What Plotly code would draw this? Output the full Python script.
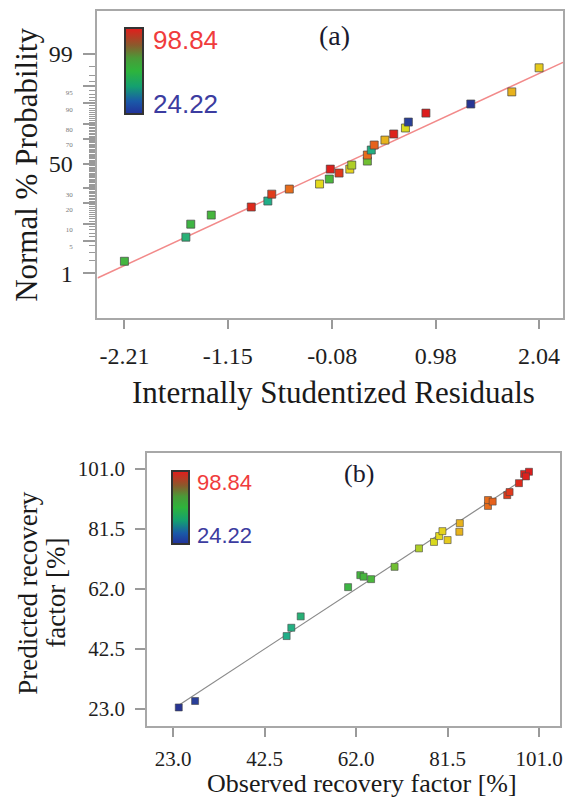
import plotly.graph_objects as go
from statistics import NormalDist

# ---------------- data: panel (a) normal probability plot ----------------
residuals = [-2.21, -1.58, -1.53, -1.32, -0.91, -0.74, -0.70, -0.52, -0.21, -0.11,
             -0.10, -0.01, 0.10, 0.12, 0.28, 0.28, 0.32, 0.35, 0.46, 0.55,
             0.67, 0.70, 0.88, 1.34, 1.76, 2.04]
probability_pct = [1.9, 5.9, 9.9, 13.7, 17.8, 21.3, 25.8, 29.4, 33.2, 37.1,
                   45.3, 42.0, 45.3, 48.7, 52.1, 57.2, 61.3, 65.3, 69.1, 73.5,
                   77.5, 81.1, 85.8, 89.7, 93.6, 97.9]
recovery_a = [62.9, 50.2, 60.3, 63.6, 96.7, 47.2, 94.2, 90.1, 79.7, 65.2,
              98.2, 94.7, 80.4, 75.4, 70.2, 90.1, 48.2, 91.1, 84.0, 97.8,
              78.6, 27.7, 98.84, 24.22, 84.1, 81.5]
fit_slope = 0.960
fit_intercept = -0.045
resid_ticks = [-2.21, -1.15, -0.08, 0.98, 2.04]
prob_major = [1, 50, 99]
prob_small = [5, 10, 20, 30, 70, 80, 90, 95]

# ---------------- data: panel (b) predicted vs observed ----------------
observed = [24.22, 27.7, 47.2, 48.2, 50.2, 60.3, 62.9, 63.6, 65.2, 70.2,
            75.4, 78.6, 79.7, 80.4, 81.5, 84.0, 84.1, 90.1, 90.1, 91.1,
            94.2, 94.7, 96.7, 97.8, 98.84, 98.2]
predicted = [23.5, 25.6, 46.7, 49.4, 53.1, 62.6, 66.5, 66.0, 65.2, 69.2,
             75.2, 77.3, 79.2, 80.8, 77.9, 80.6, 83.4, 89.0, 90.9, 90.4,
             92.5, 93.5, 96.4, 99.4, 100.1, 98.6]
rf_ticks = [23.0, 42.5, 62.0, 81.5, 101.0]
color_min = 24.22
color_max = 98.84

nd = NormalDist()
def probit(p):
    return nd.inv_cdf(p / 100.0)

SERIF = "Liberation Serif"
SANS = "Liberation Sans"
W, H = 568, 801

point_scale = [
    [0.0, "#283593"], [0.1, "#2a4aa0"], [0.3, "#20ae8c"], [0.45, "#38b448"],
    [0.58, "#50b838"], [0.68, "#a8cc28"], [0.74, "#e4dc1c"], [0.8, "#e8b41c"],
    [0.88, "#e8701c"], [0.94, "#e03a1c"], [1.0, "#dc1c1c"],
]
bar_scale = [
    [0.0, "#22309a"], [0.15, "#1a5aa8"], [0.32, "#14a070"], [0.5, "#2eb43c"],
    [0.65, "#4a9a38"], [0.8, "#8a5a2c"], [1.0, "#e41c1c"],
]

fig = go.Figure()

# ---- panel (a) ----
xa_range = [-2.486, 2.285]
fig.add_trace(go.Scatter(
    x=xa_range, y=[fit_slope * v + fit_intercept for v in xa_range],
    mode="lines", line=dict(color="#f28a8a", width=1.5),
    xaxis="x", yaxis="y", showlegend=False, hoverinfo="skip"))
fig.add_trace(go.Scatter(
    x=residuals, y=[probit(p) for p in probability_pct], mode="markers",
    marker=dict(symbol="square", size=8, color=recovery_a, cmin=color_min, cmax=color_max,
                colorscale=point_scale, line=dict(color="rgba(70,70,70,0.7)", width=1)),
    xaxis="x", yaxis="y", showlegend=False))
fig.add_trace(go.Scatter(
    x=[None], y=[None], mode="markers", xaxis="x", yaxis="y", showlegend=False, hoverinfo="skip",
    marker=dict(color=[color_min, color_max], cmin=color_min, cmax=color_max, colorscale=bar_scale,
                showscale=True,
                colorbar=dict(x=126 / W, xanchor="left", y=1 - 28 / H, yanchor="top",
                              lenmode="pixels", len=86, thicknessmode="pixels", thickness=18,
                              outlinewidth=2, outlinecolor="#333333", showticklabels=False,
                              ticks="", xpad=0, ypad=0, borderwidth=0))))

# ---- panel (b) ----
fig.add_trace(go.Scatter(
    x=[color_min, color_max], y=[color_min, color_max], mode="lines",
    line=dict(color="#8a8a8a", width=1.2),
    xaxis="x2", yaxis="y2", showlegend=False, hoverinfo="skip"))
fig.add_trace(go.Scatter(
    x=observed, y=predicted, mode="markers",
    marker=dict(symbol="square", size=7, color=observed, cmin=color_min, cmax=color_max,
                colorscale=point_scale, line=dict(color="rgba(70,70,70,0.6)", width=1)),
    xaxis="x2", yaxis="y2", showlegend=False))
fig.add_trace(go.Scatter(
    x=[None], y=[None], mode="markers", xaxis="x2", yaxis="y2", showlegend=False, hoverinfo="skip",
    marker=dict(color=[color_min, color_max], cmin=color_min, cmax=color_max, colorscale=bar_scale,
                showscale=True,
                colorbar=dict(x=173 / W, xanchor="left", y=1 - 471 / H, yanchor="top",
                              lenmode="pixels", len=73, thicknessmode="pixels", thickness=17,
                              outlinewidth=2, outlinecolor="#333333", showticklabels=False,
                              ticks="", xpad=0, ypad=0, borderwidth=0))))

# y tick labels for the probability axis
prob_tickvals = [probit(p) for p in prob_major + prob_small]
prob_ticktext = [str(p) for p in prob_major] + \
    ["<span style='font-size:7px;fill:#777'>%d</span>" % p for p in prob_small]
minor_pcts = [p for p in range(2, 99) if p not in prob_major + prob_small]

axis_common = dict(showgrid=False, zeroline=False, showline=True, mirror=True,
                   linecolor="#a8a8a8", linewidth=2, ticks="outside", tickcolor="#9a9a9a",
                   tickwidth=2)

fig.update_layout(
    width=W, height=H, margin=dict(l=0, r=0, t=0, b=0),
    paper_bgcolor="white", plot_bgcolor="white",
    xaxis=dict(domain=[98 / W, 566 / W], range=xa_range, anchor="y",
               tickmode="array", tickvals=resid_ticks, ticktext=["%.2f" % v for v in resid_ticks],
               ticklen=9, ticklabelstandoff=6,
               tickfont=dict(family=SERIF, size=24, color="#1e1e1e"), **axis_common),
    yaxis=dict(domain=[1 - 318 / H, 1 - 11 / H], range=[-3.28, 3.24], anchor="x",
               tickmode="array", tickvals=prob_tickvals, ticktext=prob_ticktext,
               ticklen=12, ticklabelstandoff=6,
               tickfont=dict(family=SERIF, size=24, color="#1e1e1e"),
               minor=dict(tickvals=[probit(p) for p in minor_pcts], ticklen=6,
                          tickcolor="#9a9a9a", tickwidth=1, ticks="outside"),
               **axis_common),
    xaxis2=dict(domain=[148 / W, 563 / W], range=[17.5, 105.45], anchor="y2",
                tickmode="array", tickvals=rf_ticks, ticktext=["%.1f" % v for v in rf_ticks],
                ticklen=9, ticklabelstandoff=4,
                tickfont=dict(family=SERIF, size=21, color="#1e1e1e"), **axis_common),
    yaxis2=dict(domain=[1 - 726 / H, 1 - 453 / H], range=[17.47, 106.2], anchor="x2",
                tickmode="array", tickvals=rf_ticks, ticktext=["%.1f" % v for v in rf_ticks],
                ticklen=10, ticklabelstandoff=6,
                tickfont=dict(family=SERIF, size=21, color="#1e1e1e"), **axis_common),
)

def ann(text, px, py, size, family=SERIF, color="#1a1a1a", angle=0, xanchor="center"):
    fig.add_annotation(text=text, x=px / W, y=1 - py / H, xref="paper", yref="paper",
                       showarrow=False, textangle=angle, xanchor=xanchor, yanchor="middle",
                       font=dict(family=family, size=size, color=color))

ann("(a)", 336, 35, 28, color="#1a1a2e")
ann("%.2f" % color_max, 152, 40, 26, family=SANS, color="#f03c3c", xanchor="left")
ann("%.2f" % color_min, 152, 104, 26, family=SANS, color="#3c3ca0", xanchor="left")
ann("Normal % Probability", 26, 165, 31, angle=-90)
ann("Internally Studentized Residuals", 335, 392, 31)

ann("(b)", 361, 473, 26, color="#1a1a2e")
ann("%.2f" % color_max, 196, 482, 22, family=SANS, color="#f03c3c", xanchor="left")
ann("%.2f" % color_min, 196, 535, 22, family=SANS, color="#3c3ca0", xanchor="left")
ann("Predicted recovery", 28, 593, 27, angle=-90)
ann("factor [%]", 56, 593, 27, angle=-90)
ann("Observed recovery factor [%]", 364, 783, 26)

fig.write_html("out.html")
